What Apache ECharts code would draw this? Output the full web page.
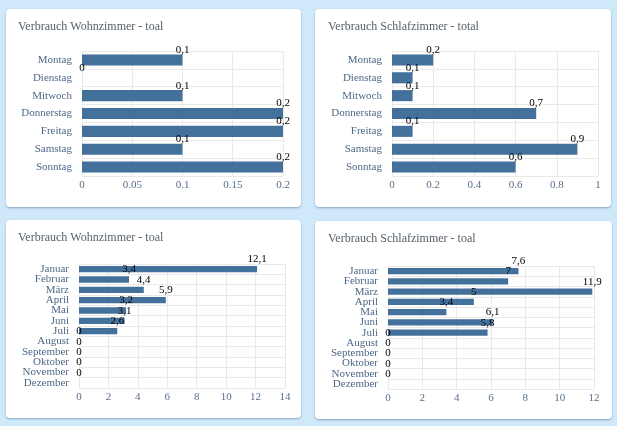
<!DOCTYPE html>
<html>
<head>
<meta charset="utf-8">
<script src="https://cdn.jsdelivr.net/npm/echarts@6/dist/echarts.min.js"></script>
<style>
  html, body { margin: 0; padding: 0; }
  body { width: 617px; height: 426px; background: #cfe8fa; position: relative; overflow: hidden; }
  .card { position: absolute; background: #ffffff; border-radius: 4px; box-shadow: 0 1px 2px rgba(40, 90, 140, 0.45); }
  #chart { position: absolute; left: 0; top: 0; width: 617px; height: 426px; }
</style>
</head>
<body>
<div class="card" style="left:6px; top:9px; width:295px; height:198px;"></div>
<div class="card" style="left:315px; top:9px; width:296px; height:198px;"></div>
<div class="card" style="left:6px; top:220px; width:295px; height:198px;"></div>
<div class="card" style="left:315px; top:221px; width:297px; height:198px;"></div>
<div id="chart"></div>
<script>
// ---- data ----
const days = ['Montag', 'Dienstag', 'Mitwoch', 'Donnerstag', 'Freitag', 'Samstag', 'Sonntag'];
const wohnWeek = [0.1, 0, 0.1, 0.2, 0.2, 0.1, 0.2];
const schlafWeek = [0.2, 0.1, 0.1, 0.7, 0.1, 0.9, 0.6];
const months = ['Januar', 'Februar', 'März', 'April', 'Mai', 'Juni', 'Juli', 'August', 'September', 'Oktober', 'November', 'Dezember'];
const wohnMonth = [12.1, 3.4, 4.4, 5.9, 3.2, 3.1, 2.6, 0, 0, 0, 0, 0];
const schlafMonth = [7.6, 7, 11.9, 5, 3.4, 6.1, 5.8, 0, 0, 0, 0, 0];
const titles = ['Verbrauch Wohnzimmer - toal', 'Verbrauch Schlafzimmer - total', 'Verbrauch Wohnzimmer - toal', 'Verbrauch Schlafzimmer - toal'];
const axisMax = [0.2, 1, 14, 12];
const axisStep = [0.05, 0.2, 2, 2];

// ---- layout / style ----
const FONT = '"Liberation Serif", "Times New Roman", serif';
const BAR = '#44709c';
const GRIDC = '#e9e9e9';
const grids = [
  { left: 82, top: 51, width: 201, height: 125 },
  { left: 392, top: 51, width: 206, height: 125 },
  { left: 79, top: 264, width: 206, height: 124 },
  { left: 388, top: 266, width: 206, height: 123 }
];
const titlePos = [[18, 21], [328, 21], [18, 232], [328, 233]];
const cats = [days, days, months, months];
const vals = [wohnWeek, schlafWeek, wohnMonth, schlafMonth];

const chart = echarts.init(document.getElementById('chart'), null, { renderer: 'canvas' });

const option = {
  animation: false,
  backgroundColor: 'transparent',
  title: titles.map((t, i) => ({
    text: t, left: titlePos[i][0], top: titlePos[i][1], padding: 0,
    textStyle: { fontFamily: FONT, fontSize: 12, fontWeight: 'normal', color: '#56606b' }
  })),
  grid: grids.map(g => Object.assign({ containLabel: false }, g)),
  xAxis: grids.map((g, i) => ({
    type: 'value', gridIndex: i, min: 0, max: axisMax[i], interval: axisStep[i],
    axisLine: { show: false }, axisTick: { show: false },
    splitLine: { show: true, lineStyle: { color: GRIDC, width: 1 } },
    axisLabel: { fontFamily: FONT, fontSize: 11, color: '#5a6f8c', margin: 4 }
  })),
  yAxis: grids.map((g, i) => ({
    type: 'category', gridIndex: i, data: cats[i], inverse: true,
    axisLine: { show: true, lineStyle: { color: GRIDC } }, axisTick: { show: false },
    splitLine: { show: true, lineStyle: { color: GRIDC, width: 1 } },
    axisLabel: { fontFamily: FONT, fontSize: 11, color: '#4f6888', margin: 10, interval: 0 }
  })),
  series: vals.map((v, i) => ({
    type: 'bar', xAxisIndex: i, yAxisIndex: i, data: v,
    barCategoryGap: '38%',
    itemStyle: { color: BAR },
    label: {
      show: true, position: ['100%', '50%'], offset: [0, -10],
      align: 'center', verticalAlign: 'middle',
      fontFamily: FONT, fontSize: 11, color: '#000',
      formatter: p => String(p.value).replace('.', ',')
    }
  }))
};
chart.setOption(option);
</script>
</body>
</html>
